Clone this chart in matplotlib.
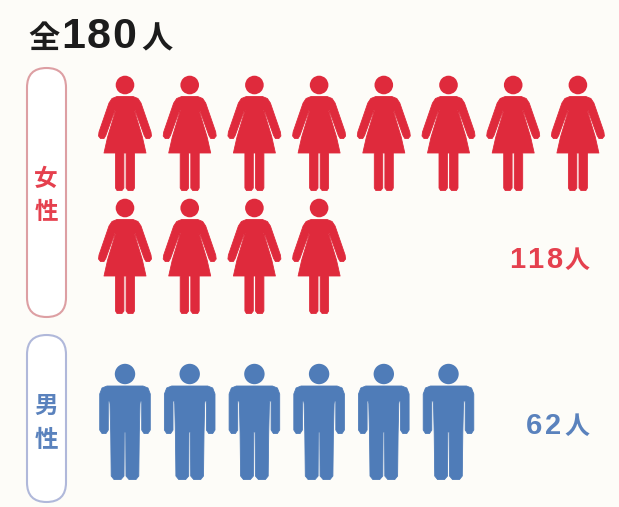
import matplotlib
matplotlib.use('Agg')
import matplotlib.pyplot as plt
from matplotlib.patches import FancyBboxPatch, Polygon, Circle
from matplotlib.transforms import Affine2D

# one icon = 10 people
categories = ['女性', '男性']
counts = [118, 62]
total = 180
per_icon = 10
per_row = 8
colors = ['#df2a3c', '#4f7cb8']
text_colors = ['#e5404e', '#5a82bd']
edge_colors = ['#dd9fa3', '#b0b8da']

cjk = ['Noto Sans CJK JP', 'DejaVu Sans']
latin = ['Liberation Sans', 'DejaVu Sans']
bg = '#fdfcf8'
dark = '#1c1c1c'

# half outlines, relative to centre of the head
woman_half = [(0, 11.5), (-8, 11.5), (-13, 13.5), (-16, 18), (-26, 47), (-26.5, 51), (-24.5, 53.5), (-21, 53.5),
              (-19.2, 50.5), (-10, 25), (-9.2, 25), (-17.4, 52), (-21, 68), (-9.5, 68), (-9.5, 103), (-8, 105.5),
              (-3, 105.5), (-1.1, 103), (-1.1, 68), (0, 68)]
man_half = [(0, 12), (-18, 12), (-23, 14), (-25.3, 20), (-25.3, 56), (-23, 59.5), (-19, 59.5), (-16.7, 56),
            (-16.7, 27), (-15.4, 27), (-15, 30), (-14.3, 60), (-13.8, 102), (-11, 105.5), (-4, 105.5),
            (-1, 102), (-0.7, 58), (0, 58)]
woman_r = 9.3
man_r = 10.2


def mirror(half):
    return half + [(-x, y) for x, y in reversed(half)]


def draw_person(ax, cx, cy, outline, r, color):
    tr = Affine2D().translate(cx, cy) + ax.transData
    ax.add_patch(Circle((0, 0), r, fc=color, ec='none', transform=tr))
    ax.add_patch(Polygon(mirror(outline), closed=True, fc=color, ec=color, lw=0.6,
                         joinstyle='round', transform=tr))


def spaced_digits(ax, x, y, value, advance, size, color):
    # digits one by one, the reference has wider tracking than the font
    for j, ch in enumerate(str(value)):
        ax.text(x + j * advance, y, ch, family=latin, fontsize=size, fontweight='bold',
                color=color, va='baseline')


fig = plt.figure(figsize=(6.19, 5.07), dpi=100, facecolor=bg)
ax = fig.add_axes([0, 0, 1, 1])
ax.set_xlim(0, 619)
ax.set_ylim(507, 0)
ax.axis('off')

# title
ax.text(44, 39, '全', family=cjk, fontsize=22.5, fontweight='bold', color=dark, ha='center', va='center')
spaced_digits(ax, 61, 48, total, 25.5, 31, dark)
ax.text(157, 39, '人', family=cjk, fontsize=22.5, fontweight='bold', color=dark, ha='center', va='center')

# panels
pill_tops = [68, 335]
pill_bottoms = [317, 502]
label_ys = [(179, 212), (406, 440)]
first_heads = [85, 374]
shapes = [(woman_half, woman_r), (man_half, man_r)]
count_x = [509, 526]
count_y = [268, 434]
count_adv = [18.5, 18.5]
unit_y = [261, 427]

for i, cat in enumerate(categories):
    top, bottom = pill_tops[i], pill_bottoms[i]
    ax.add_patch(FancyBboxPatch((46.5, top + 19.5), 0, bottom - top - 39,
                                boxstyle='round,pad=19.5,rounding_size=19.5',
                                fc='white', ec=edge_colors[i], lw=1.5))
    for ch, y in zip(cat, label_ys[i]):
        ax.text(46, y, ch, family=cjk, fontsize=17, fontweight='bold', color=text_colors[i],
                ha='center', va='center')

    n_icons = round(counts[i] / per_icon)
    for k in range(n_icons):
        row, col = divmod(k, per_row)
        draw_person(ax, 125 + 64.7 * col, first_heads[i] + 123 * row, shapes[i][0], shapes[i][1], colors[i])

    spaced_digits(ax, count_x[i], count_y[i], counts[i], count_adv[i], 21, text_colors[i])
    ax.text(577, unit_y[i], '人', family=cjk, fontsize=18, fontweight='bold', color=text_colors[i],
            ha='center', va='center')

fig.savefig('out.png', dpi=100, facecolor=bg)
